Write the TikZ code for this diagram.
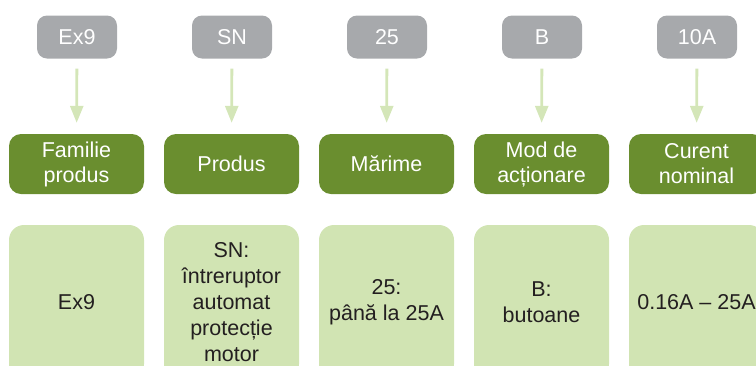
\documentclass[tikz,border=0pt]{standalone}
\usepackage{fontspec}
\setmainfont{Liberation Sans}
\usetikzlibrary{arrows.meta}
\definecolor{grayfill}{HTML}{A7A9AC}
\definecolor{darkgreen}{HTML}{6A8E2F}
\definecolor{lightgreen}{HTML}{D1E4B3}
\definecolor{arrowgreen}{HTML}{D4E6B8}
\definecolor{textdark}{HTML}{231F20}
\tikzset{
  codebox/.style={fill=grayfill, text=white, rounded corners=10pt, minimum width=80pt, minimum height=43pt, inner sep=0pt, font=\fontsize{21.5}{26}\selectfont},
  catbox/.style={fill=darkgreen, text=white, rounded corners=12pt, minimum width=135pt, minimum height=60pt, inner sep=0pt, align=center, font=\fontsize{21.5}{25}\selectfont},
  descbox/.style={fill=lightgreen, text=textdark, rounded corners=15pt, minimum width=135pt, minimum height=154pt, inner sep=0pt, align=center, font=\fontsize{21.5}{26}\selectfont},
  flowarrow/.style={draw=arrowgreen, line width=2.8pt, -{Triangle[width=13pt,length=17pt]}, shorten <=10pt, shorten >=11pt}
}
\begin{document}
\begin{tikzpicture}[x=1pt,y=-1pt]
\useasboundingbox (0,0) rectangle (756,365);
% codes
\node[codebox] (g1) at (77,37) {Ex9};
\node[codebox] (g2) at (232,37) {SN};
\node[codebox] (g3) at (387,37) {25};
\node[codebox] (g4) at (542,37) {B};
\node[codebox] (g5) at (697,37) {10A};
% categories
\node[catbox] (c1) at (76.5,164) {Familie\\produs};
\node[catbox] (c2) at (231.5,164) {Produs};
\node[catbox] (c3) at (386.5,164) {Mărime};
\node[catbox] (c4) at (541.5,164) {Mod de\\acționare};
\node[catbox] (c5) at (696.5,164) {Curent\\nominal};
% descriptions
\node[descbox] (d1) at (76.5,302) {Ex9};
\node[descbox] (d2) at (231.5,302) {SN:\\întreruptor\\automat\\protecție\\motor};
\node[descbox] (d3) at (386.5,302) {25:\\până la 25A};
\node[descbox] (d4) at (541.5,302) {B:\\butoane};
\node[descbox] (d5) at (696.5,302) {0.16A – 25A};
% arrows
\foreach \i in {1,...,5} {
  \draw[flowarrow] (g\i) -- (c\i);
}
\end{tikzpicture}
\end{document}
